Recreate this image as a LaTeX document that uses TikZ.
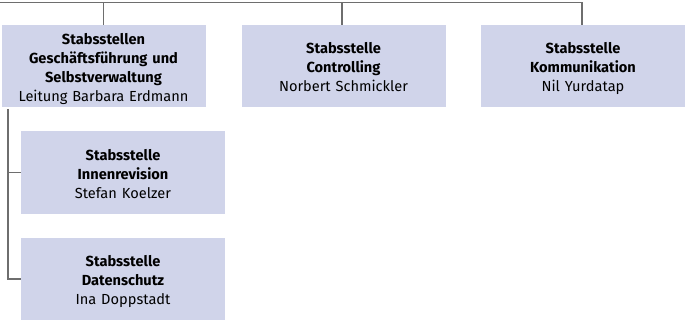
\documentclass[tikz,border=0pt]{standalone}
\usepackage{fontspec}
\setmainfont{Fira Sans}
\definecolor{boxfill}{RGB}{208,212,234}
\definecolor{linegray}{RGB}{110,110,110}
\newcommand{\fl}[1]{\rule{0pt}{19.3pt}\textbf{#1}\strut}
\newcommand{\bl}[1]{\textbf{#1}\strut}
\newcommand{\nl}[1]{#1\strut}
\begin{document}
\begin{tikzpicture}[x=1pt,y=1pt,
  orgbox/.style={fill=boxfill, draw=none, minimum width=204pt, minimum height=82pt,
    text width=200pt, align=center, inner sep=0pt, font=\fontsize{14.6}{19}\selectfont},
  conn/.style={draw=linegray, line width=1.1pt}]
\useasboundingbox (0,0) rectangle (685,-323);
\node[orgbox] (b1) at (103.5,-66) {\fl{Stabsstellen}\\\bl{Geschäftsführung und}\\\bl{Selbstverwaltung}\\\nl{Leitung Barbara Erdmann}};
\node[orgbox] (b2) at (343.5,-66) {\fl{Stabsstelle}\\\bl{Controlling}\\\nl{Norbert Schmickler}};
\node[orgbox] (b3) at (583,-66) {\fl{Stabsstelle}\\\bl{Kommunikation}\\\nl{Nil Yurdatap}};
\node[orgbox] (b4) at (123,-172.5) {\fl{Stabsstelle}\\\bl{Innenrevision}\\\nl{Stefan Koelzer}};
\node[orgbox] (b5) at (123,-279) {\fl{Stabsstelle}\\\bl{Datenschutz}\\\nl{Ina Doppstadt}};
\coordinate (tl) at (0,-2.5);
\coordinate (tr) at (582,-2.5);
\coordinate (lt) at (8,-109);
\draw[conn] (tl) -- (tr);
\draw[conn] (b1.north) -- (b1.north |- tl);
\draw[conn] (b2.north -| 342,0) -- (342,-2.5);
\draw[conn] (tr) -- (tr |- b3.north);
\draw[conn] (lt) |- (b5.west);
\draw[conn] (lt |- b4.west) -- (b4.west);
\end{tikzpicture}
\end{document}
